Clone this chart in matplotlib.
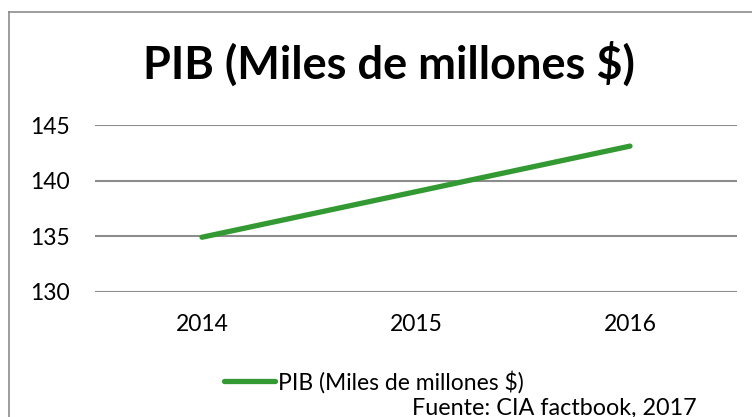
import matplotlib
matplotlib.use("Agg")
import matplotlib.pyplot as plt
from matplotlib.lines import Line2D

# data
years = ["2014", "2015", "2016"]
pib = [134.9, 139.0, 143.1]
yticks = [130, 135, 140, 145]
title = "PIB (Miles de millones $)"
source = "Fuente: CIA factbook, 2017"

plt.rcParams['font.family'] = ['Lato', 'DejaVu Sans']

W, H = 752, 417
fig = plt.figure(figsize=(W / 100, H / 100), dpi=100)

# chart frame (only left and top edges visible in the crop)
fig.add_artist(Line2D([9 / W, 9 / W], [0, 1 - 12 / H], color="#8c8c8c", lw=1.2))
fig.add_artist(Line2D([9 / W, 1], [1 - 12 / H, 1 - 12 / H], color="#8c8c8c", lw=1.2))

ax = fig.add_axes([95 / W, 1 - 291.7 / H, 642 / W, (291.7 - 125) / H])
x = list(range(len(years)))
line, = ax.plot(x, pib, color="#339933", lw=3.8, solid_capstyle="round",
                label=title)

ax.set_xlim(-0.5, len(years) - 0.5)
ax.set_ylim(130, 145)
ax.set_yticks(yticks)
ax.set_xticks(x)
ax.set_xticklabels(years)
ax.yaxis.grid(True, color="#8c8c8c", lw=1.5)
ax.set_axisbelow(True)
for s in ax.spines.values():
    s.set_visible(False)
ax.tick_params(axis="y", length=0, pad=18, labelsize=16.5, colors="black")
ax.tick_params(axis="x", length=0, pad=16, labelsize=16.5, colors="black")

fig.text(389 / W, 1 - 64 / H, title, ha="center", va="center",
         fontsize=32.5, fontweight="bold")

fig.legend(handles=[line], loc="center", bbox_to_anchor=(374 / W, 1 - 382 / H),
           frameon=False, fontsize=16.5, handlelength=2.2, handletextpad=0.15,
           borderaxespad=0)

fig.text(412 / W, 1 - 408 / H, source, ha="left", va="center", fontsize=16.8)

fig.savefig("out.png", dpi=100)
